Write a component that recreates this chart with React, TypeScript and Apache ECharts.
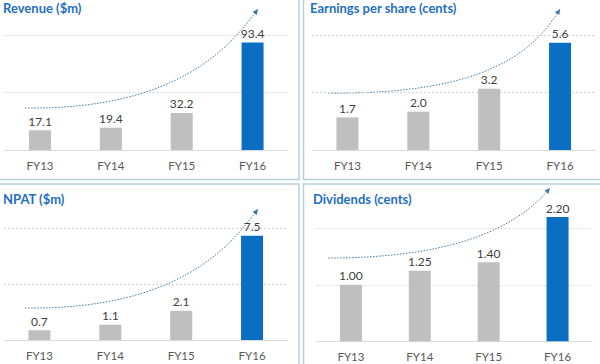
import React, { useEffect, useRef } from "react";
import * as echarts from "echarts";

// ---- data ----
const categories = ["FY13", "FY14", "FY15", "FY16"];
const revenue = [17.1, 19.4, 32.2, 93.4];
const eps = [1.7, 2.0, 3.2, 5.6];
const npat = [0.7, 1.1, 2.1, 7.5];
const dividends = [1.0, 1.25, 1.4, 2.2];
const seriesValues = [revenue, eps, npat, dividends];
const titles = ["Revenue ($m)", "Earnings per share (cents)", "NPAT ($m)", "Dividends (cents)"];
const gridInterval = [50, 3, 4, 1];
const axisMax = [100, 6, 8, 2.4];
const labelDecimals = [1, 1, 1, 2];
const highlightIndex = 3;

// ---- layout (pixels) ----
const panels = [
  { left: 4.6, width: 283.4, top: 35, height: 115, titleX: 3, titleY: 1 },
  { left: 312, width: 283.5, top: 35, height: 115, titleX: 310, titleY: 1 },
  { left: 4, width: 283.5, top: 228.7, height: 111.3, titleX: 3, titleY: 192 },
  { left: 316.5, width: 275.5, top: 205.7, height: 135.6, titleX: 313, titleY: 192 },
];
const boxes = [
  { x: -2, y: -2, w: 301, h: 181.5 },
  { x: 303.5, y: -2, w: 299, h: 181.5 },
  { x: -2, y: 184, w: 301, h: 182 },
  { x: 303.5, y: 184, w: 299, h: 182 },
];
// decorative trend arrows (cubic bezier)
const trendCurves = [
  { x1: 25, y1: 108, cpx1: 180, cpy1: 110, cpx2: 231, cpy2: 45, x2: 258, y2: 9 },
  { x1: 328, y1: 93, cpx1: 488, cpy1: 95, cpx2: 535, cpy2: 50, x2: 560, y2: 9 },
  { x1: 25, y1: 308, cpx1: 180, cpy1: 310, cpx2: 231, cpy2: 245, x2: 258, y2: 209 },
  { x1: 328, y1: 258, cpx1: 450, cpy1: 258, cpx2: 515, cpy2: 230, x2: 550, y2: 188 },
];

const FONT = "Lato, 'Open Sans', sans-serif";
const GRAY = "#bfbfbf";
const BLUE = "#0a6fc2";
const TITLE_BLUE = "#1f6fbf";
const ARROW = "#3f7aa6";
const BORDER = "#b7cfdb";

function arrowHead(c: any) {
  const dx = c.x2 - c.cpx2;
  const dy = c.y2 - c.cpy2;
  const len = Math.sqrt(dx * dx + dy * dy) || 1;
  const ux = dx / len, uy = dy / len;
  const nx = -uy, ny = ux;
  const L = 5.5, W = 2.6;
  const bx = c.x2 - ux * L, by = c.y2 - uy * L;
  return [
    [c.x2, c.y2],
    [bx + nx * W, by + ny * W],
    [bx - nx * W, by - ny * W],
  ];
}

export default function App() {
  const ref = useRef<HTMLDivElement>(null);
  useEffect(() => {
    if (!ref.current) return;
    const chart = echarts.init(ref.current, null, { renderer: "svg" });

    const grids = panels.map((p) => ({ left: p.left, width: p.width, top: p.top, height: p.height }));
    const xAxes = panels.map((_, i) => ({
      type: "category",
      gridIndex: i,
      data: categories,
      axisTick: { show: false },
      axisLine: { lineStyle: { color: "#d9d9d9", width: 1 } },
      axisLabel: { color: "#595959", fontSize: 11.5, fontFamily: FONT, margin: 9 },
    }));
    const yAxes = panels.map((_, i) => ({
      type: "value",
      gridIndex: i,
      min: 0,
      max: axisMax[i],
      interval: gridInterval[i],
      axisLine: { show: false },
      axisTick: { show: false },
      axisLabel: { show: false },
      splitLine: {
        show: true,
        showMinLine: false,
        showMaxLine: axisMax[i] % gridInterval[i] === 0,
        lineStyle: { type: [2, 2], color: "#d4d4d4", width: 1 },
      },
    }));
    const series = seriesValues.map((vals, i) => ({
      type: "bar",
      xAxisIndex: i,
      yAxisIndex: i,
      barWidth: 22,
      data: vals.map((v, k) => ({ value: v, itemStyle: { color: k === highlightIndex ? BLUE : GRAY } })),
      label: {
        show: true,
        position: "top",
        distance: 3,
        color: "#404040",
        fontSize: 12,
        fontFamily: FONT,
        formatter: (p: any) => Number(p.value).toFixed(labelDecimals[i]),
      },
    }));

    const graphics: any[] = [];
    boxes.forEach((b) => {
      graphics.push({
        type: "rect",
        shape: { x: b.x, y: b.y, width: b.w, height: b.h },
        style: { fill: "none", stroke: BORDER, lineWidth: 1.5 },
        silent: true,
      });
    });
    trendCurves.forEach((c) => {
      graphics.push({
        type: "bezierCurve",
        shape: c,
        style: { fill: "none", stroke: ARROW, lineWidth: 1, lineDash: [1.5, 1.5] },
        silent: true,
      });
      graphics.push({
        type: "polygon",
        shape: { points: arrowHead(c) },
        style: { fill: ARROW },
        silent: true,
      });
    });

    chart.setOption({
      animation: false,
      backgroundColor: "#ffffff",
      title: panels.map((p, i) => ({
        text: titles[i],
        left: p.titleX,
        top: p.titleY,
        padding: 0,
        textStyle: { color: TITLE_BLUE, fontSize: 13, fontWeight: "bold", fontFamily: FONT },
      })),
      grid: grids,
      xAxis: xAxes,
      yAxis: yAxes,
      series,
      graphic: graphics,
    });
    return () => chart.dispose();
  }, []);
  return (
    <div
      ref={ref}
      style={{ position: "fixed", left: 0, top: 0, width: 600, height: 364 }}
    />
  );
}
